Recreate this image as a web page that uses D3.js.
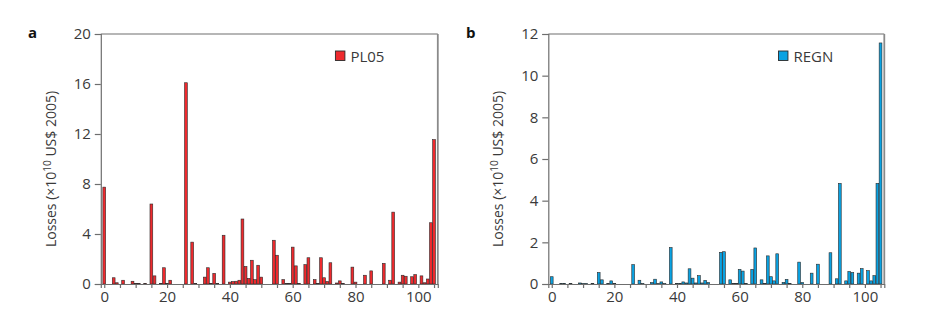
<!DOCTYPE html>
<html>
<head>
<meta charset="utf-8">
<script src="https://cdn.jsdelivr.net/npm/d3@7"></script>
<style>
  html, body { margin: 0; padding: 0; background: #fff; }
  svg { display: block; font-family: "Open Sans", sans-serif; }
</style>
</head>
<body>
<div id="chart"></div>
<script>
// ---- data ----
const indices = d3.range(0, 106);   // event index 0..105

const pl05Values = [
  7.75, 0, 0, 0.5, 0.1, 0, 0.3, 0, 0, 0.22,
  0.05, 0.05, 0, 0.05, 0, 6.4, 0.65, 0, 0.05, 1.3,
  0.05, 0.3, 0, 0, 0, 0, 16.1, 0, 3.35, 0.05,
  0, 0, 0.55, 1.3, 0.05, 0.85, 0.05, 0, 3.9, 0,
  0.15, 0.2, 0.22, 0.3, 5.2, 1.4, 0.45, 1.9, 0.35, 1.5,
  0.55, 0, 0, 0, 3.5, 2.3, 0, 0.35, 0.05, 0.05,
  2.95, 1.45, 0.05, 0, 1.55, 2.1, 0, 0.35, 0.05, 2.1,
  0.5, 0.2, 1.7, 0, 0.08, 0.25, 0.05, 0, 0, 1.35,
  0.15, 0, 0, 0.7, 0, 1.05, 0, 0, 0, 1.65,
  0, 0.3, 5.75, 0, 0.15, 0.7, 0.62, 0, 0.58, 0.75,
  0, 0.65, 0.1, 0.4, 4.9, 11.55
];

const regnValues = [
  0.35, 0, 0, 0.03, 0.03, 0, 0.03, 0, 0, 0.05,
  0.02, 0.02, 0, 0.03, 0, 0.55, 0.2, 0, 0.03, 0.15,
  0.03, 0, 0, 0, 0, 0, 0.93, 0, 0.18, 0.02,
  0, 0, 0.07, 0.23, 0.02, 0.1, 0.02, 0, 1.75, 0,
  0.03, 0.03, 0.1, 0.05, 0.73, 0.28, 0.05, 0.4, 0.05, 0.17,
  0.07, 0, 0, 0, 1.52, 1.55, 0, 0.2, 0.03, 0.03,
  0.7, 0.62, 0.03, 0, 0.7, 1.73, 0, 0.2, 0.03, 1.35,
  0.35, 0.15, 1.45, 0, 0.08, 0.22, 0.03, 0, 0, 1.05,
  0.07, 0, 0, 0.52, 0, 0.95, 0, 0, 0, 1.5,
  0, 0.25, 4.83, 0, 0.15, 0.6, 0.55, 0, 0.52, 0.74,
  0, 0.64, 0.15, 0.4, 4.83, 11.57
];

const xTicks = d3.range(0, 106, 5);
const xTickLabels = [0, 20, 40, 60, 80, 100];
const yTicksA = [0, 4, 8, 12, 16, 20];
const yTicksB = [0, 2, 4, 6, 8, 10, 12];

const panels = [
  { letter: "a", name: "PL05", values: pl05Values, color: "#ee2a2e", yMax: 20, yTicks: yTicksA,
    left: 100.8, right: 437.8, letterX: 28, titleX: 56 },
  { letter: "b", name: "REGN", values: regnValues, color: "#0aa2e2", yMax: 12, yTicks: yTicksB,
    left: 548.3, right: 884.3, letterX: 466, titleX: 503 }
];

const W = 945, H = 324;
const plotTop = 34, plotBottom = 284;
const textColor = "#3a3a3a";
const frameColor = "#6e6e6e";

const svg = d3.select("#chart").append("svg")
  .attr("width", W).attr("height", H);

panels.forEach(p => {
  const x = d3.scaleLinear().domain([-1.1, 106.2]).range([p.left, p.right]);
  const y = d3.scaleLinear().domain([0, p.yMax]).range([plotBottom, plotTop]);
  const g = svg.append("g");

  // bars
  const bw = x(0.44) - x(-0.44);
  g.selectAll("rect.bar")
    .data(indices.map(i => ({ i, v: p.values[i] })).filter(d => d.v > 0))
    .join("rect")
    .attr("class", "bar")
    .attr("x", d => x(d.i) - bw / 2)
    .attr("width", bw)
    .attr("y", d => y(d.v))
    .attr("height", d => Math.max(0.6, y(0) - y(d.v)))
    .attr("fill", p.color)
    .attr("stroke", "#2a2a2a")
    .attr("stroke-width", 0.6);

  // frame: top, right
  g.append("line").attr("x1", p.left).attr("x2", p.right).attr("y1", plotTop).attr("y2", plotTop)
    .attr("stroke", frameColor).attr("stroke-width", 1.2);
  g.append("line").attr("x1", p.right).attr("x2", p.right).attr("y1", plotTop).attr("y2", plotBottom)
    .attr("stroke", "#8a8a8a").attr("stroke-width", 1.8);

  // y axis
  const yAxis = d3.axisLeft(y).tickValues(p.yTicks).tickSize(6).tickPadding(4)
    .tickFormat(d3.format("d"));
  const ya = g.append("g").attr("transform", `translate(${p.left},0)`).call(yAxis);
  ya.select(".domain").attr("stroke", frameColor).attr("stroke-width", 1.2);
  ya.selectAll(".tick line").attr("stroke", frameColor).attr("stroke-width", 1.2);
  ya.selectAll(".tick text").attr("fill", textColor).style("font-size", "15px")
    .style("font-family", "'Open Sans', sans-serif");

  // x axis
  const xAxis = d3.axisBottom(x).tickValues(xTicks).tickSize(4).tickPadding(3)
    .tickFormat(d => xTickLabels.includes(d) ? d : "");
  const xa = g.append("g").attr("transform", `translate(0,${plotBottom})`).call(xAxis);
  xa.select(".domain").attr("stroke", frameColor).attr("stroke-width", 1.2);
  xa.selectAll(".tick line").attr("stroke", frameColor).attr("stroke-width", 1.2);
  xa.selectAll(".tick text").attr("fill", textColor).style("font-size", "15px")
    .style("font-family", "'Open Sans', sans-serif");

  // y title
  const yt = g.append("text")
    .attr("transform", `translate(${p.titleX},${(plotTop + plotBottom) / 2 + 10}) rotate(-90)`)
    .attr("text-anchor", "middle")
    .attr("fill", textColor)
    .style("font-size", "14px");
  yt.append("tspan").text("Losses (\u00d710");
  yt.append("tspan").attr("dy", -5).style("font-size", "10px").text("10");
  yt.append("tspan").attr("dy", 5).text(" US$ 2005)");

  // panel letter
  g.append("text").attr("x", p.letterX).attr("y", 38)
    .attr("fill", "#111").style("font-size", "15px").style("font-weight", "bold")
    .text(p.letter);

  // legend
  const lx = x(p.letter === "a" ? 73.6 : 72.4);
  g.append("rect").attr("x", lx).attr("y", 51).attr("width", 9.5).attr("height", 9.5)
    .attr("fill", p.color).attr("stroke", "#2a2a2a").attr("stroke-width", 0.9);
  g.append("text").attr("x", lx + 15).attr("y", 61.5)
    .attr("fill", textColor).style("font-size", "15px").text(p.name);
});
</script>
</body>
</html>
